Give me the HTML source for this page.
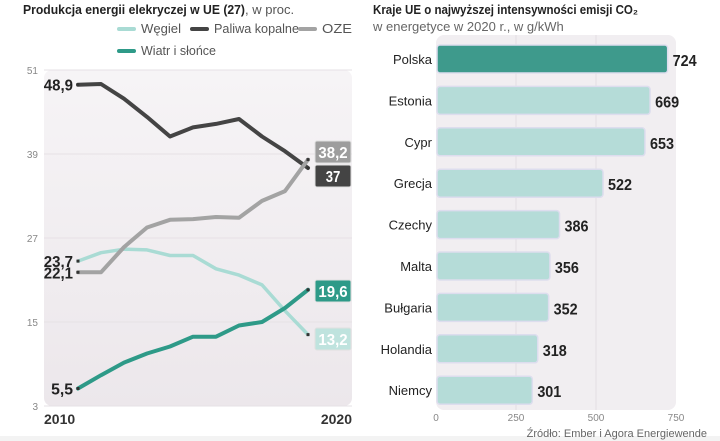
<!DOCTYPE html>
<html><head><meta charset="utf-8"><style>
body{margin:0;width:720px;height:441px;background:#fff;overflow:hidden;font-family:"Liberation Sans",sans-serif}
svg{display:block}
</style></head><body>
<svg width="720" height="441" viewBox="0 0 720 441">
<defs>
<linearGradient id="bgL" x1="0" y1="0" x2="0" y2="1"><stop offset="0" stop-color="#f6f4f6"/><stop offset="1" stop-color="#ece7eb"/></linearGradient>
</defs>
<rect x="0" y="0" width="720" height="441" fill="#fff"/>
<rect x="0" y="436" width="720" height="5" fill="#f3f3f3"/>
<text x="23" y="14" font-size="13" fill="#222"><tspan font-weight="bold" textLength="222" lengthAdjust="spacingAndGlyphs">Produkcja energii elekryczej w UE (27)</tspan><tspan fill="#555">, w proc.</tspan></text>
<g id="legend" font-size="12.5" fill="#555"></g>
<rect x="44" y="70" width="308" height="336" rx="8" fill="url(#bgL)"/>
<g id="left"></g>
<text x="373" y="14" font-size="13" font-weight="bold" fill="#222" textLength="265" lengthAdjust="spacingAndGlyphs">Kraje UE o najwyższej intensywności emisji CO₂</text>
<text x="373" y="31" font-size="13" fill="#666">w energetyce w 2020 r., w g/kWh</text>
<rect x="436" y="35" width="240" height="375" rx="8" fill="#f1eef1"/>
<g id="right"></g>
<text x="707" y="437" text-anchor="end" font-size="11" fill="#666">Źródło: Ember i Agora Energiewende</text>
</svg>
<script>
const years=[2010,2011,2012,2013,2014,2015,2016,2017,2018,2019,2020];
const wegiel=[23.7,24.9,25.4,25.3,24.5,24.5,22.6,21.7,20.3,16.6,13.2];
const paliwa=[48.9,49.0,46.9,44.3,41.5,42.8,43.3,44.0,41.5,39.4,37];
const oze=[22.1,22.1,25.7,28.5,29.6,29.7,30.0,29.9,32.3,33.7,38.2];
const wiatr=[5.5,7.4,9.2,10.5,11.5,12.9,12.9,14.5,15.0,17.0,19.6];
const yTicks=[51,39,27,15,3];
const countries=["Polska","Estonia","Cypr","Grecja","Czechy","Malta","Bułgaria","Holandia","Niemcy"];
const emissions=[724,669,653,522,386,356,352,318,301];
const xTicks=[0,250,500,750];

const NS="http://www.w3.org/2000/svg";
function mk(p,tag,at,txt){const e=document.createElementNS(NS,tag);for(const k in at)e.setAttribute(k,at[k]);if(txt!==undefined)e.textContent=txt;p.appendChild(e);return e;}
const fmt=v=>String(v).replace('.',',');

// left chart
const L=document.getElementById('left');
const xs=y=>78+(y-2010)*23;
const ys=v=>406-(v-3)*(336/48);
yTicks.forEach(t=>{
  const g=mk(L,'line',{x1:44,x2:352,y1:ys(t),y2:ys(t),stroke:'#e6e1e5','stroke-width':1});
  
  
  const tx=mk(L,'text',{x:38,y:ys(t)+4,'text-anchor':'end','font-size':10,fill:'#888'},t);
  
  
});
[2010,2020].forEach((yr,i)=>{
  const t=mk(L,'text',{x:i?352:44,y:424,'text-anchor':i?'end':'start','font-size':14,'font-weight':'bold',fill:'#333'},yr);
  
  
});
const series=[
 {name:'wegiel',data:wegiel,color:'#a9dbd4',w:3.5,end:{bg:'#bfe3de',fg:'#fff'}},
 {name:'paliwa',data:paliwa,color:'#444',w:4,end:{bg:'#444',fg:'#fff'}},
 {name:'oze',data:oze,color:'#a3a3a3',w:4,end:{bg:'#9d9d9d',fg:'#fff'}},
 {name:'wiatr',data:wiatr,color:'#2e9a88',w:4,end:{bg:'#2e9a88',fg:'#fff'}}
];
const endPos={wegiel:339,paliwa:176,oze:152,wiatr:291};
series.forEach(s=>{
  const d=s.data.map((v,i)=>(i?'L':'M')+xs(years[i])+','+ys(v)).join(' ');
  const p=mk(L,'path',{d:d,fill:'none',stroke:s.color,'stroke-width':s.w,'stroke-linejoin':'round','stroke-linecap':'round'});
  
  
  const lab=fmt(s.data[0]);
  const t=mk(L,'text',{x:73,y:ys(s.data[0])+6,'text-anchor':'end','font-size':16,'font-weight':'bold',fill:'#222',textLength:lab.length*7.3,lengthAdjust:'spacingAndGlyphs'},lab);
  
  
  mk(L,'rect',{x:xs(2010)-1.5,y:ys(s.data[0])-1.5,width:3,height:3,fill:'#333'});
  const last=s.data[s.data.length-1];
  mk(L,'rect',{x:xs(2020)-1.5,y:ys(last)-1.5,width:3,height:3,fill:'#333'});
  const cy=endPos[s.name];
  const r=mk(L,'rect',{x:315,y:cy-11,width:36,height:22,rx:2,fill:s.end.bg,stroke:'#e0e0e0','stroke-width':1});
  
  
  const el=fmt(last);
  const et=mk(L,'text',{x:333,y:cy+6,'text-anchor':'middle','font-size':16,'font-weight':'bold',fill:s.end.fg,textLength:el.length*7.3,lengthAdjust:'spacingAndGlyphs'},el);
  
  
});

// legend
const LG=document.getElementById('legend');
[['Węgiel','#a9dbd4',119,33,40],['Paliwa kopalne','#444',192,33,85],['OZE','#a3a3a3',300,33,30],['Wiatr i słońce','#2e9a88',119,55,75]].forEach(e=>{
  const l=mk(LG,'line',{x1:e[2],x2:e[2]+15,y1:e[3]-4,y2:e[3]-4,stroke:e[1],'stroke-width':4,'stroke-linecap':'round'});
  
  
  const t=mk(LG,'text',{x:e[2]+22,y:e[3],textLength:e[4],lengthAdjust:'spacingAndGlyphs'},e[0]);
  
  
});

// right chart
const R=document.getElementById('right');
const bx=v=>436+v*(240/750);
xTicks.forEach(t=>{
  if(t>0&&t<750){const g=mk(R,'line',{x1:bx(t),x2:bx(t),y1:35,y2:410,stroke:'#e4dfe3','stroke-width':1});
  
  }
  const tx=mk(R,'text',{x:bx(t),y:421,'text-anchor':'middle','font-size':10,fill:'#888'},t);
  
  
});
countries.forEach((c,i)=>{
  const cy=59+i*41.4;
  const v=emissions[i];
  const b=mk(R,'rect',{x:437,y:cy-14,width:bx(v)-437,height:28,rx:3,fill:i===0?'#3e9a8c':'#b5dcd8',stroke:'#dde','stroke-width':1.5});
  
  
  const l=mk(R,'text',{x:432,y:cy+5,'text-anchor':'end','font-size':13,fill:'#222'},c);
  
  
  const vt=mk(R,'text',{x:bx(v)+5,y:cy+7,'font-size':16,'font-weight':'bold',fill:'#222',textLength:24,lengthAdjust:'spacingAndGlyphs'},v);
  
  
});
</script>
</body></html>
